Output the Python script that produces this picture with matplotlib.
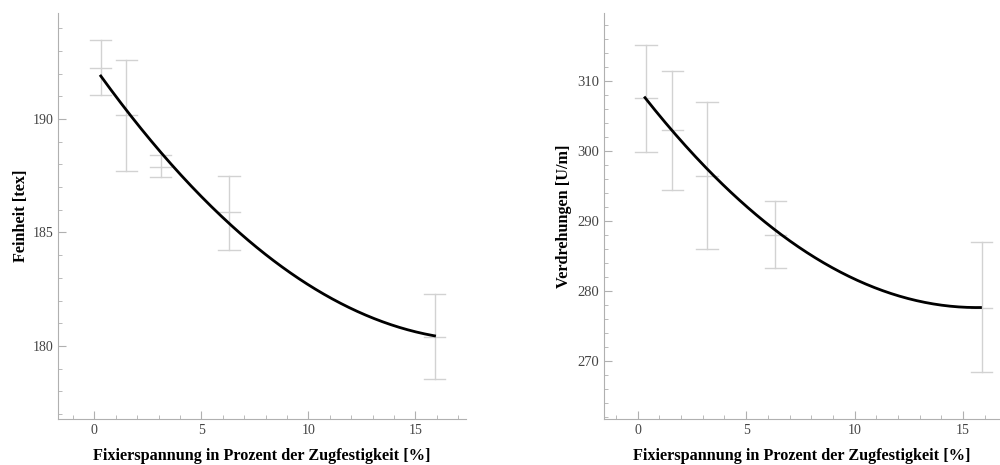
import numpy as np
import matplotlib
matplotlib.use('Agg')
import matplotlib.pyplot as plt
from matplotlib.ticker import MultipleLocator

# Messwerte (Mittelwert, obere/untere Grenze)
x_left = [0.3, 1.5, 3.1, 6.3, 15.9]
feinheit = [192.26, 190.18, 187.9, 185.9, 180.41]
feinheit_hi = [193.47, 192.6, 188.4, 187.5, 182.3]
feinheit_lo = [191.04, 187.7, 187.43, 184.25, 178.53]

x_right = [0.4, 1.6, 3.2, 6.35, 15.85]
verdrehung = [307.5, 302.95, 296.45, 288.0, 277.6]
verdrehung_hi = [315.15, 311.4, 306.95, 292.8, 286.9]
verdrehung_lo = [299.9, 294.4, 286.0, 283.2, 268.4]

# Regressionskurven (quadratisch, Koeffizienten a + b*x + c*x^2)
fit_left = [192.29, -1.3229, 0.03635]
fit_right = [308.95, -4.0113, 0.1283]
fit_range_left = (0.3, 15.9)
fit_range_right = (0.34, 15.8)

xlabel = 'Fixierspannung in Prozent der Zugfestigkeit [%]'

plt.rcParams['font.family'] = ['Liberation Serif', 'DejaVu Serif']
fig = plt.figure(figsize=(10, 4.65), dpi=100)

axc = '#b0b0b0'
errc = '#d2d2d2'


def panel(rect, x, mean, hi, lo, coef, rng, xlim, ylim, ymaj, ymin, ylabel,
          ysize, ypad):
    ax = fig.add_axes(rect)
    for xi, m, h, l in zip(x, mean, hi, lo):
        ax.plot([xi, xi], [l, h], color=errc, lw=1)
        for v in (l, m, h):
            ax.plot([xi - 0.5, xi + 0.5], [v, v], color=errc, lw=1)
    xs = np.linspace(rng[0], rng[1], 200)
    ys = coef[0] + coef[1] * xs + coef[2] * xs ** 2
    ax.plot(xs, ys, color='black', lw=2)
    ax.set_xlim(*xlim)
    ax.set_ylim(*ylim)
    ax.spines['top'].set_visible(False)
    ax.spines['right'].set_visible(False)
    ax.spines['left'].set_color(axc)
    ax.spines['bottom'].set_color(axc)
    ax.xaxis.set_major_locator(MultipleLocator(5))
    ax.xaxis.set_minor_locator(MultipleLocator(1))
    ax.yaxis.set_major_locator(MultipleLocator(ymaj))
    ax.yaxis.set_minor_locator(MultipleLocator(ymin))
    ax.tick_params(which='both', direction='in', color=axc, labelcolor='#444444')
    ax.tick_params(axis='x', labelsize=10)
    ax.tick_params(axis='y', labelsize=ysize)
    ax.tick_params(which='major', length=6)
    ax.tick_params(which='minor', length=3)
    ax.set_xlabel(xlabel, fontsize=11.7, fontweight='bold', labelpad=8)
    ax.set_ylabel(ylabel, fontsize=11.7, fontweight='bold', labelpad=ypad)
    return ax


panel([0.058, 0.0989, 0.408, 0.873], x_left, feinheit, feinheit_hi, feinheit_lo,
      fit_left, fit_range_left, (-1.70, 17.37), (176.78, 194.67), 5, 1,
      'Feinheit [tex]', 10, 2)
panel([0.604, 0.0989, 0.396, 0.873], x_right, verdrehung, verdrehung_hi, verdrehung_lo,
      fit_right, fit_range_right, (-1.55, 16.7), (261.66, 319.7), 10, 2,
      'Verdrehungen [U/m]', 10.5, 4)

fig.savefig('out.png', dpi=100)
